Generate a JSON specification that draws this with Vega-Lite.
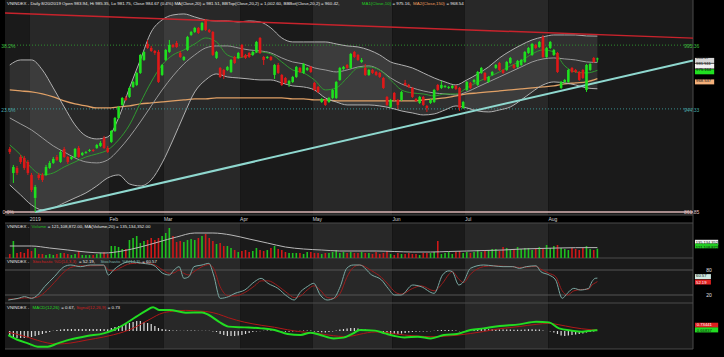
{
"$schema":"https://vega.github.io/schema/vega-lite/v6.json",
"background":"#000000",
"padding":0,
"autosize":{"type":"none"},
"width":724,
"height":357,
"config":{"view":{"stroke":null,"fill":"#000000"},"text":{"font":"Liberation Sans"}},
"resolve":{"scale":{"y":"independent","color":"independent"}},
"datasets":{
"mo":[{"m":"Dec","a":-7.31,"b":-0.5,"lab":""},{"m":"Jan","a":-0.5,"b":21.5,"lab":"2019"},{"m":"Feb","a":21.5,"b":36.5,"lab":"Feb"},{"m":"Mar","a":36.5,"b":57.5,"lab":"Mar"},{"m":"Apr","a":57.5,"b":77.5,"lab":"Apr"},{"m":"May","a":77.5,"b":99.5,"lab":"May"},{"m":"Jun","a":99.5,"b":119.5,"lab":"Jun"},{"m":"Jul","a":119.5,"b":142.5,"lab":"Jul"},{"m":"Aug","a":142.5,"b":182.36,"lab":"Aug"}],
"c":[
{"i":-6,"o":912.3,"h":913.9,"l":908.3,"c":909.9,"v":52,"mh":-4},
{"i":-5,"o":893.1,"h":899.5,"l":885.1,"c":897.9,"v":221,"mh":-5},
{"i":-4,"o":897.1,"h":898.7,"l":891.5,"c":893.1,"v":65,"mh":-5.6},
{"i":-3,"o":905.9,"h":907.5,"l":900.3,"c":901.9,"v":78,"mh":-5.6},
{"i":-2,"o":905.1,"h":906.7,"l":895.5,"c":897.1,"v":65,"mh":-5.6},
{"i":-1,"o":901.9,"h":903.5,"l":891.5,"c":893.1,"v":117,"mh":-5.2},
{"i":0,"o":891.5,"h":893.1,"l":877.9,"c":879.5,"v":91,"mh":-4.8},
{"i":1,"o":873.1,"h":883.5,"l":861.9,"c":881.9,"v":130,"mh":-4},
{"i":2,"o":891.5,"h":893.1,"l":887.5,"c":889.1,"v":52,"mh":-3.2},
{"i":3,"o":891.5,"h":893.1,"l":885.9,"c":887.5,"v":52,"mh":-2.4},
{"i":4,"o":891.5,"h":899.5,"l":890.7,"c":897.9,"v":39,"mh":-1.6},
{"i":5,"o":897.1,"h":902.7,"l":896.3,"c":901.1,"v":52,"mh":-0.8},
{"i":6,"o":901.1,"h":905.9,"l":900.3,"c":904.3,"v":39,"mh":0.3},
{"i":7,"o":905.9,"h":907.5,"l":902.7,"c":903.5,"v":52,"mh":0.8},
{"i":8,"o":901.9,"h":911.5,"l":901.1,"c":909.9,"v":65,"mh":1.2},
{"i":9,"o":912.3,"h":913.9,"l":905.1,"c":905.9,"v":65,"mh":1.6},
{"i":10,"o":905.9,"h":906.7,"l":900.3,"c":901.9,"v":52,"mh":1.6},
{"i":11,"o":904.3,"h":906.7,"l":903.5,"c":905.9,"v":39,"mh":1.6},
{"i":12,"o":905.9,"h":913.1,"l":905.1,"c":912.3,"v":52,"mh":1.6},
{"i":13,"o":913.1,"h":914.7,"l":905.1,"c":905.9,"v":91,"mh":1.6},
{"i":14,"o":907.5,"h":909.9,"l":906.7,"c":909.1,"v":39,"mh":1.6},
{"i":15,"o":909.1,"h":910.7,"l":908.3,"c":909.9,"v":39,"mh":1.6},
{"i":16,"o":910.7,"h":912.3,"l":909.9,"c":911.5,"v":39,"mh":1.6},
{"i":17,"o":911.5,"h":912.3,"l":909.9,"c":910.7,"v":39,"mh":1.6},
{"i":18,"o":913.1,"h":916.3,"l":912.3,"c":915.5,"v":52,"mh":1.6},
{"i":19,"o":914.7,"h":918.7,"l":913.9,"c":917.1,"v":65,"mh":1.6},
{"i":20,"o":921.1,"h":922.7,"l":912.3,"c":913.1,"v":78,"mh":1.6},
{"i":21,"o":913.1,"h":914.7,"l":909.1,"c":909.9,"v":52,"mh":1.4},
{"i":22,"o":917.9,"h":927.5,"l":917.1,"c":926.7,"v":156,"mh":2.4},
{"i":23,"o":926.7,"h":937.9,"l":925.9,"c":937.1,"v":156,"mh":3.2},
{"i":24,"o":937.1,"h":946.7,"l":936.3,"c":945.9,"v":143,"mh":4},
{"i":25,"o":947.5,"h":953.9,"l":946.7,"c":953.1,"v":117,"mh":4.8},
{"i":26,"o":953.1,"h":954.7,"l":950.7,"c":951.5,"v":117,"mh":5.6},
{"i":27,"o":953.9,"h":961.9,"l":953.1,"c":961.1,"v":234,"mh":6.4},
{"i":28,"o":961.9,"h":966.7,"l":961.1,"c":965.9,"v":260,"mh":7.2},
{"i":29,"o":963.5,"h":973.9,"l":962.7,"c":973.1,"v":286,"mh":8},
{"i":30,"o":973.1,"h":988.3,"l":972.3,"c":987.5,"v":195,"mh":8},
{"i":31,"o":983.5,"h":990.7,"l":982.7,"c":989.9,"v":221,"mh":7.2},
{"i":32,"o":996.3,"h":999.5,"l":992.3,"c":993.1,"v":234,"mh":6.4},
{"i":33,"o":993.1,"h":994.7,"l":989.9,"c":990.7,"v":260,"mh":5.6},
{"i":34,"o":990.7,"h":991.5,"l":987.5,"c":989.1,"v":234,"mh":4},
{"i":35,"o":989.9,"h":991.5,"l":965.1,"c":965.9,"v":260,"mh":2.4},
{"i":36,"o":971.5,"h":980.3,"l":970.7,"c":979.5,"v":286,"mh":1.6},
{"i":37,"o":983.5,"h":992.3,"l":982.7,"c":991.5,"v":325,"mh":1.2},
{"i":38,"o":989.9,"h":999.5,"l":989.1,"c":995.5,"v":390,"mh":0.8},
{"i":39,"o":995.5,"h":996.3,"l":993.1,"c":993.9,"v":286,"mh":0.4},
{"i":40,"o":997.1,"h":998.7,"l":993.1,"c":993.9,"v":208,"mh":0.4},
{"i":41,"o":989.1,"h":990.7,"l":985.1,"c":985.9,"v":221,"mh":0.2},
{"i":42,"o":983.5,"h":986.7,"l":982.7,"c":985.9,"v":208,"mh":0.2},
{"i":43,"o":991.5,"h":1002.7,"l":990.7,"c":1001.9,"v":234,"mh":0.4},
{"i":44,"o":1003.5,"h":1006.7,"l":1002.7,"c":1005.9,"v":247,"mh":0.4},
{"i":45,"o":1005.9,"h":1009.9,"l":1005.1,"c":1009.1,"v":234,"mh":0.4},
{"i":46,"o":1009.1,"h":1009.9,"l":1004.3,"c":1005.1,"v":260,"mh":0.2},
{"i":47,"o":1007.5,"h":1013.9,"l":1006.7,"c":1013.1,"v":286,"mh":0.2},
{"i":48,"o":1015.5,"h":1016.3,"l":1006.7,"c":1007.5,"v":312,"mh":0.2},
{"i":49,"o":1007.5,"h":1008.3,"l":1005.1,"c":1005.9,"v":260,"mh":0.2},
{"i":50,"o":1005.9,"h":1006.7,"l":986.7,"c":987.5,"v":221,"mh":-0.4},
{"i":51,"o":985.1,"h":990.7,"l":984.3,"c":989.9,"v":182,"mh":-0.8},
{"i":52,"o":977.1,"h":977.9,"l":969.1,"c":969.9,"v":195,"mh":-2.4},
{"i":53,"o":975.5,"h":976.3,"l":968.3,"c":971.5,"v":156,"mh":-3.2},
{"i":54,"o":975.5,"h":978.7,"l":974.7,"c":977.9,"v":156,"mh":-4},
{"i":55,"o":973.9,"h":984.3,"l":973.1,"c":983.5,"v":130,"mh":-4},
{"i":56,"o":985.9,"h":986.7,"l":980.3,"c":981.1,"v":104,"mh":-4},
{"i":57,"o":985.1,"h":989.9,"l":984.3,"c":989.1,"v":78,"mh":-3.6},
{"i":58,"o":995.5,"h":996.3,"l":985.1,"c":985.9,"v":91,"mh":-3.2},
{"i":59,"o":987.5,"h":988.3,"l":984.3,"c":985.1,"v":104,"mh":-2.4},
{"i":60,"o":989.1,"h":989.9,"l":985.1,"c":985.9,"v":78,"mh":-1.6},
{"i":61,"o":987.5,"h":990.7,"l":986.7,"c":989.9,"v":91,"mh":-0.8},
{"i":62,"o":989.9,"h":998.7,"l":989.1,"c":997.9,"v":130,"mh":-0.4},
{"i":63,"o":1001.1,"h":1001.9,"l":988.3,"c":989.1,"v":104,"mh":-0.2},
{"i":64,"o":985.9,"h":986.7,"l":979.5,"c":983.5,"v":91,"mh":0.2},
{"i":65,"o":985.1,"h":986.7,"l":984.3,"c":985.9,"v":104,"mh":0.4},
{"i":66,"o":985.9,"h":986.7,"l":982.7,"c":983.5,"v":130,"mh":0.4},
{"i":67,"o":971.5,"h":980.3,"l":968.3,"c":979.5,"v":156,"mh":0.2},
{"i":68,"o":979.5,"h":981.1,"l":972.3,"c":973.1,"v":117,"mh":-0.2},
{"i":69,"o":971.5,"h":972.3,"l":962.7,"c":963.5,"v":104,"mh":-0.4},
{"i":70,"o":969.1,"h":969.9,"l":964.3,"c":965.1,"v":78,"mh":-0.6},
{"i":71,"o":964.3,"h":967.5,"l":961.9,"c":966.7,"v":65,"mh":-0.6},
{"i":72,"o":965.9,"h":970.7,"l":965.1,"c":969.9,"v":65,"mh":-0.4},
{"i":73,"o":969.9,"h":978.7,"l":969.1,"c":977.9,"v":65,"mh":-0.2},
{"i":74,"o":977.1,"h":977.9,"l":973.1,"c":973.9,"v":65,"mh":0.2},
{"i":75,"o":973.1,"h":981.1,"l":972.3,"c":980.3,"v":52,"mh":0.4},
{"i":76,"o":975.5,"h":977.9,"l":974.7,"c":977.1,"v":78,"mh":0.4},
{"i":77,"o":977.9,"h":978.7,"l":973.1,"c":973.9,"v":78,"mh":0.4},
{"i":78,"o":965.1,"h":965.9,"l":958.7,"c":959.5,"v":65,"mh":-0.4},
{"i":79,"o":961.9,"h":962.7,"l":957.1,"c":957.9,"v":65,"mh":-0.8},
{"i":80,"o":949.9,"h":953.1,"l":949.1,"c":952.3,"v":52,"mh":-1},
{"i":81,"o":951.5,"h":952.3,"l":946.7,"c":947.5,"v":65,"mh":-1.2},
{"i":82,"o":949.9,"h":953.9,"l":949.1,"c":953.1,"v":65,"mh":-0.8},
{"i":83,"o":953.1,"h":960.3,"l":952.3,"c":959.5,"v":78,"mh":-0.4},
{"i":84,"o":953.1,"h":966.7,"l":952.3,"c":965.9,"v":104,"mh":0.4},
{"i":85,"o":967.5,"h":977.9,"l":966.7,"c":977.1,"v":65,"mh":1.2},
{"i":86,"o":976.3,"h":978.7,"l":975.5,"c":977.9,"v":78,"mh":1.6},
{"i":87,"o":979.5,"h":980.3,"l":976.3,"c":977.1,"v":65,"mh":2},
{"i":88,"o":977.1,"h":989.1,"l":976.3,"c":988.3,"v":78,"mh":2.4},
{"i":89,"o":989.9,"h":990.7,"l":985.1,"c":985.9,"v":65,"mh":2.4},
{"i":90,"o":987.5,"h":988.3,"l":982.7,"c":983.5,"v":65,"mh":2},
{"i":91,"o":981.9,"h":985.1,"l":981.1,"c":983.5,"v":78,"mh":1.6},
{"i":92,"o":977.1,"h":980.3,"l":970.7,"c":971.5,"v":65,"mh":1.2},
{"i":93,"o":971.5,"h":976.3,"l":970.7,"c":975.5,"v":65,"mh":0.8},
{"i":94,"o":975.5,"h":976.3,"l":972.3,"c":973.1,"v":52,"mh":0.4},
{"i":95,"o":973.9,"h":974.7,"l":970.7,"c":971.5,"v":78,"mh":0.2},
{"i":96,"o":973.1,"h":973.9,"l":969.1,"c":969.9,"v":52,"mh":-0.4},
{"i":97,"o":969.1,"h":969.9,"l":960.3,"c":961.1,"v":65,"mh":-1.2},
{"i":98,"o":953.9,"h":954.7,"l":946.7,"c":947.5,"v":91,"mh":-2},
{"i":99,"o":945.9,"h":952.3,"l":945.1,"c":951.5,"v":52,"mh":-2.4},
{"i":100,"o":957.1,"h":957.9,"l":950.7,"c":951.5,"v":39,"mh":-2.4},
{"i":101,"o":951.5,"h":952.3,"l":944.3,"c":947.5,"v":65,"mh":-2.4},
{"i":102,"o":951.5,"h":958.7,"l":950.7,"c":957.9,"v":52,"mh":-2},
{"i":103,"o":965.1,"h":967.5,"l":962.7,"c":963.5,"v":52,"mh":-1.6},
{"i":104,"o":963.5,"h":964.3,"l":961.1,"c":961.9,"v":65,"mh":-1.2},
{"i":105,"o":961.1,"h":961.9,"l":953.1,"c":953.9,"v":52,"mh":-0.8},
{"i":106,"o":952.3,"h":953.1,"l":949.9,"c":950.7,"v":52,"mh":-0.6},
{"i":107,"o":949.1,"h":954.7,"l":948.3,"c":953.9,"v":39,"mh":-0.4},
{"i":108,"o":953.9,"h":954.7,"l":946.7,"c":947.5,"v":65,"mh":-0.4},
{"i":109,"o":946.7,"h":947.5,"l":941.9,"c":945.1,"v":65,"mh":-0.4},
{"i":110,"o":949.1,"h":952.3,"l":948.3,"c":951.5,"v":65,"mh":-0.2},
{"i":111,"o":949.9,"h":960.3,"l":949.1,"c":959.5,"v":78,"mh":0.2},
{"i":112,"o":963.5,"h":964.3,"l":958.7,"c":959.5,"v":221,"mh":0.6},
{"i":113,"o":961.1,"h":966.7,"l":960.3,"c":963.5,"v":52,"mh":0.8},
{"i":114,"o":961.9,"h":963.5,"l":961.1,"c":962.7,"v":65,"mh":0.8},
{"i":115,"o":961.1,"h":962.7,"l":960.3,"c":961.9,"v":78,"mh":0.8},
{"i":116,"o":961.1,"h":963.5,"l":960.3,"c":962.7,"v":52,"mh":0.6},
{"i":117,"o":962.7,"h":963.5,"l":959.5,"c":960.3,"v":78,"mh":0.4},
{"i":118,"o":961.1,"h":961.9,"l":942.7,"c":945.1,"v":91,"mh":-0.2},
{"i":119,"o":945.1,"h":950.7,"l":944.3,"c":949.9,"v":65,"mh":-0.2},
{"i":120,"o":959.5,"h":966.7,"l":958.7,"c":965.9,"v":78,"mh":0.4},
{"i":121,"o":965.1,"h":965.9,"l":960.3,"c":961.1,"v":65,"mh":0.8},
{"i":122,"o":965.9,"h":968.3,"l":965.1,"c":967.5,"v":78,"mh":1.2},
{"i":123,"o":963.5,"h":974.7,"l":962.7,"c":973.9,"v":104,"mh":1.6},
{"i":124,"o":973.1,"h":977.9,"l":972.3,"c":977.1,"v":78,"mh":1.6},
{"i":125,"o":973.1,"h":973.9,"l":966.7,"c":967.5,"v":91,"mh":1.6},
{"i":126,"o":965.9,"h":970.7,"l":965.1,"c":969.9,"v":104,"mh":1.4},
{"i":127,"o":971.5,"h":974.7,"l":970.7,"c":973.9,"v":117,"mh":1.4},
{"i":128,"o":977.1,"h":980.3,"l":976.3,"c":979.5,"v":117,"mh":1.4},
{"i":129,"o":981.1,"h":981.9,"l":974.7,"c":975.5,"v":91,"mh":1.2},
{"i":130,"o":975.5,"h":976.3,"l":972.3,"c":973.1,"v":143,"mh":1.2},
{"i":131,"o":975.5,"h":982.7,"l":974.7,"c":981.9,"v":130,"mh":1.2},
{"i":132,"o":981.1,"h":985.9,"l":980.3,"c":985.1,"v":104,"mh":1.2},
{"i":133,"o":979.5,"h":980.3,"l":976.3,"c":977.1,"v":117,"mh":1},
{"i":134,"o":977.9,"h":983.5,"l":977.1,"c":982.7,"v":143,"mh":1},
{"i":135,"o":979.5,"h":984.3,"l":978.7,"c":983.5,"v":117,"mh":1},
{"i":136,"o":981.9,"h":990.7,"l":981.1,"c":989.9,"v":130,"mh":1.2},
{"i":137,"o":989.1,"h":993.9,"l":988.3,"c":993.1,"v":130,"mh":1.4},
{"i":138,"o":987.5,"h":997.1,"l":986.7,"c":996.3,"v":104,"mh":1.4},
{"i":139,"o":995.5,"h":996.3,"l":992.3,"c":993.1,"v":117,"mh":1.2},
{"i":140,"o":993.9,"h":998.7,"l":993.1,"c":997.9,"v":143,"mh":1.2},
{"i":141,"o":1001.9,"h":1003.5,"l":985.1,"c":985.9,"v":117,"mh":0.4},
{"i":142,"o":985.9,"h":993.9,"l":985.1,"c":993.1,"v":169,"mh":0},
{"i":143,"o":993.1,"h":998.7,"l":992.3,"c":997.9,"v":130,"mh":-0.4},
{"i":144,"o":987.5,"h":992.3,"l":986.7,"c":991.5,"v":156,"mh":-1.2},
{"i":145,"o":989.1,"h":989.9,"l":973.1,"c":973.9,"v":169,"mh":-2.4},
{"i":146,"o":961.1,"h":966.7,"l":960.3,"c":965.9,"v":130,"mh":-3.6},
{"i":147,"o":965.9,"h":968.3,"l":965.1,"c":967.5,"v":117,"mh":-4},
{"i":148,"o":965.9,"h":976.3,"l":965.1,"c":975.5,"v":104,"mh":-3.6},
{"i":149,"o":977.1,"h":977.9,"l":973.1,"c":973.9,"v":130,"mh":-3.2},
{"i":150,"o":975.5,"h":976.3,"l":973.1,"c":973.9,"v":117,"mh":-2.8},
{"i":151,"o":973.9,"h":974.7,"l":966.7,"c":967.5,"v":104,"mh":-2.4},
{"i":152,"o":975.5,"h":976.3,"l":968.3,"c":969.1,"v":130,"mh":-2},
{"i":153,"o":959.5,"h":980.3,"l":957.9,"c":979.5,"v":156,"mh":-1.2},
{"i":154,"o":975.5,"h":981.1,"l":974.7,"c":980.3,"v":117,"mh":-0.8},
{"i":155,"o":985.1,"h":985.9,"l":981.1,"c":981.9,"v":104,"mh":-0.4},
{"i":156,"o":983.94,"h":985.35,"l":981.75,"c":984.67,"v":121.1,"mh":-0.06}
],
"bb":[
{"i":-6,"t":979.5,"b":883.5,"m":937.1,"a":915.5,"s":959.5},
{"i":-3,"t":983.5,"b":875.5,"m":932.3,"a":907.5,"s":958.7},
{"i":0,"t":983.5,"b":867.5,"m":927.5,"a":897.1,"s":957.9},
{"i":3,"t":975.5,"b":863.5,"m":921.1,"a":891.5,"s":956.3},
{"i":6,"t":961.1,"b":865.1,"m":914.7,"a":893.1,"s":953.9},
{"i":9,"t":945.9,"b":869.1,"m":909.9,"a":897.9,"s":950.7},
{"i":12,"t":931.5,"b":873.1,"m":905.1,"a":901.9,"s":948.3},
{"i":15,"t":922.7,"b":877.1,"m":901.9,"a":905.9,"s":946.7},
{"i":18,"t":920.3,"b":882.7,"m":901.1,"a":908.3,"s":945.1},
{"i":21,"t":921.9,"b":889.1,"m":903.5,"a":911.5,"s":945.1},
{"i":24,"t":937.1,"b":891.5,"m":911.5,"a":919.5,"s":945.9},
{"i":27,"t":961.1,"b":884.3,"m":921.9,"a":931.5,"s":946.7},
{"i":30,"t":983.5,"b":882.7,"m":933.9,"a":949.1,"s":948.3},
{"i":33,"t":1005.9,"b":887.5,"m":946.7,"a":965.9,"s":949.1},
{"i":36,"t":1015.5,"b":901.1,"m":959.5,"a":979.5,"s":949.9},
{"i":39,"t":1019.5,"b":919.5,"m":970.7,"a":987.5,"s":950.7},
{"i":42,"t":1020.3,"b":939.5,"m":980.3,"a":991.5,"s":951.5},
{"i":45,"t":1017.9,"b":957.9,"m":987.5,"a":996.3,"s":952.3},
{"i":48,"t":1015.5,"b":967.5,"m":993.1,"a":1001.1,"s":952.3},
{"i":51,"t":1014.7,"b":972.3,"m":994.7,"a":997.9,"s":953.1},
{"i":54,"t":1014.7,"b":969.9,"m":994.7,"a":987.5,"s":953.1},
{"i":57,"t":1013.9,"b":969.1,"m":993.1,"a":985.1,"s":953.1},
{"i":60,"t":1014.7,"b":968.3,"m":991.5,"a":987.5,"s":953.1},
{"i":63,"t":1013.9,"b":967.5,"m":990.7,"a":989.9,"s":953.1},
{"i":66,"t":1009.1,"b":967.5,"m":989.1,"a":988.3,"s":953.1},
{"i":69,"t":1001.1,"b":965.1,"m":985.1,"a":981.9,"s":953.1},
{"i":72,"t":997.9,"b":962.7,"m":981.9,"a":975.5,"s":952.3},
{"i":75,"t":997.9,"b":961.9,"m":980.3,"a":973.1,"s":952.3},
{"i":78,"t":997.9,"b":959.5,"m":977.1,"a":967.5,"s":951.5},
{"i":81,"t":997.9,"b":953.1,"m":975.5,"a":959.5,"s":951.5},
{"i":84,"t":996.3,"b":949.9,"m":973.9,"a":961.1,"s":950.7},
{"i":87,"t":994.7,"b":947.5,"m":975.5,"a":969.1,"s":950.7},
{"i":90,"t":993.9,"b":947.5,"m":977.9,"a":977.1,"s":950.7},
{"i":93,"t":991.5,"b":947.5,"m":978.7,"a":977.9,"s":950.7},
{"i":96,"t":987.5,"b":946.7,"m":975.5,"a":975.5,"s":950.7},
{"i":99,"t":981.9,"b":945.1,"m":969.1,"a":967.5,"s":950.7},
{"i":102,"t":979.5,"b":942.7,"m":964.3,"a":959.5,"s":950.7},
{"i":105,"t":977.1,"b":941.1,"m":961.1,"a":957.1,"s":950.7},
{"i":108,"t":973.1,"b":939.5,"m":958.7,"a":956.3,"s":951.5},
{"i":111,"t":969.1,"b":940.3,"m":957.1,"a":954.7,"s":952.3},
{"i":114,"t":965.9,"b":943.5,"m":956.3,"a":956.3,"s":953.1},
{"i":117,"t":963.5,"b":946.7,"m":955.5,"a":956.3,"s":954.7},
{"i":120,"t":967.5,"b":945.1,"m":957.9,"a":961.1,"s":956.3},
{"i":123,"t":972.3,"b":942.7,"m":961.9,"a":965.9,"s":957.1},
{"i":126,"t":977.9,"b":941.9,"m":965.9,"a":969.9,"s":957.9},
{"i":129,"t":985.1,"b":943.5,"m":969.9,"a":973.9,"s":958.7},
{"i":132,"t":990.7,"b":945.9,"m":973.9,"a":978.7,"s":959.5},
{"i":135,"t":995.5,"b":951.5,"m":977.9,"a":982.7,"s":960.3},
{"i":138,"t":999.5,"b":957.9,"m":981.9,"a":988.3,"s":961.1},
{"i":141,"t":1001.9,"b":963.5,"m":984.3,"a":991.5,"s":961.9},
{"i":144,"t":1003.5,"b":965.9,"m":985.1,"a":989.9,"s":962.7},
{"i":147,"t":1003.5,"b":965.1,"m":984.3,"a":978.7,"s":964.3},
{"i":150,"t":1003.5,"b":963.5,"m":983.5,"a":973.9,"s":965.1},
{"i":153,"t":1002.7,"b":961.1,"m":981.9,"a":973.1,"s":965.9},
{"i":156,"t":1002.6,"b":960.42,"m":981.51,"a":975.16,"s":968.54}
],
"vm":[{"i":-6,"v":156},{"i":0,"v":156},{"i":5,"v":130},{"i":10,"v":104},{"i":15,"v":78},{"i":20,"v":65},{"i":25,"v":91},{"i":30,"v":143},{"i":35,"v":208},{"i":40,"v":273},{"i":45,"v":325},{"i":50,"v":325},{"i":55,"v":299},{"i":60,"v":247},{"i":65,"v":195},{"i":70,"v":143},{"i":75,"v":117},{"i":80,"v":104},{"i":85,"v":91},{"i":90,"v":91},{"i":95,"v":91},{"i":100,"v":84.5},{"i":105,"v":78},{"i":110,"v":78},{"i":115,"v":84.5},{"i":120,"v":91},{"i":125,"v":97.5},{"i":130,"v":104},{"i":135,"v":117},{"i":140,"v":123.5},{"i":145,"v":130},{"i":150,"v":134},{"i":156,"v":135.1}],
"st":[{"i":-6.4,"k":8,"d":10},{"i":-3.7,"k":12,"d":11},{"i":-1.9,"k":16,"d":13},{"i":0,"k":12,"d":13},{"i":1.7,"k":20,"d":15},{"i":3.6,"k":40,"d":26},{"i":6.3,"k":64,"d":50},{"i":9,"k":88,"d":75},{"i":10.8,"k":92,"d":86},{"i":13.5,"k":88,"d":90},{"i":16.2,"k":92,"d":90},{"i":19.9,"k":92,"d":91},{"i":21.2,"k":68,"d":80},{"i":22.6,"k":80,"d":78},{"i":24.4,"k":92,"d":85},{"i":27.1,"k":100,"d":95},{"i":30.7,"k":96,"d":97},{"i":33.5,"k":92,"d":94},{"i":36.2,"k":72,"d":80},{"i":38,"k":68,"d":72},{"i":39.3,"k":80,"d":73},{"i":40.7,"k":88,"d":80},{"i":42,"k":60,"d":72},{"i":43.4,"k":64,"d":68},{"i":44.8,"k":88,"d":76},{"i":47,"k":92,"d":88},{"i":48.9,"k":96,"d":93},{"i":50.2,"k":68,"d":84},{"i":52,"k":12,"d":40},{"i":54.3,"k":16,"d":18},{"i":56.1,"k":24,"d":18},{"i":58.8,"k":32,"d":26},{"i":61.5,"k":52,"d":42},{"i":63.3,"k":60,"d":54},{"i":65.2,"k":48,"d":54},{"i":67.9,"k":36,"d":42},{"i":70.6,"k":16,"d":24},{"i":72.4,"k":8,"d":14},{"i":74.2,"k":28,"d":18},{"i":76,"k":40,"d":32},{"i":77.8,"k":48,"d":42},{"i":79.6,"k":20,"d":32},{"i":81.5,"k":8,"d":14},{"i":83.3,"k":12,"d":12},{"i":85.1,"k":40,"d":24},{"i":86.9,"k":84,"d":62},{"i":88.7,"k":92,"d":86},{"i":90.5,"k":92,"d":92},{"i":93.8,"k":68,"d":78},{"i":96.5,"k":56,"d":62},{"i":98.3,"k":36,"d":46},{"i":100.1,"k":20,"d":28},{"i":101.9,"k":20,"d":22},{"i":105.1,"k":44,"d":36},{"i":107.4,"k":40,"d":42},{"i":111,"k":24,"d":30},{"i":113.3,"k":68,"d":48},{"i":115.1,"k":78,"d":70},{"i":116,"k":76,"d":76},{"i":117.8,"k":44,"d":58},{"i":119.1,"k":52,"d":50},{"i":121,"k":84,"d":70},{"i":124.6,"k":92,"d":88},{"i":127.3,"k":90,"d":90},{"i":130,"k":88,"d":89},{"i":132.7,"k":88,"d":88},{"i":134.5,"k":84,"d":86},{"i":136.4,"k":88,"d":87},{"i":139.1,"k":90,"d":89},{"i":140.4,"k":76,"d":82},{"i":142.7,"k":68,"d":72},{"i":144.5,"k":56,"d":64},{"i":146.3,"k":12,"d":30},{"i":147.7,"k":24,"d":20},{"i":149.5,"k":36,"d":30},{"i":151.3,"k":32,"d":33},{"i":153.6,"k":36,"d":34},{"i":154.5,"k":52,"d":44},{"i":155.4,"k":60,"d":49},{"i":156,"k":60.57,"d":52.19}],
"md":[{"i":-6.4,"m":-3.2,"s":-1},{"i":-3.7,"m":-7.2,"s":-2.8},{"i":-1,"m":-9.9,"s":-5},{"i":1.7,"m":-12.5,"s":-7.5},{"i":4.5,"m":-12.5,"s":-9.6},{"i":7.2,"m":-9.9,"s":-10.4},{"i":10.8,"m":-6.7,"s":-9.6},{"i":15.3,"m":-4,"s":-7.2},{"i":19.9,"m":-1.9,"s":-4.8},{"i":22.6,"m":0.8,"s":-3},{"i":25.3,"m":4.8,"s":-0.8},{"i":28.9,"m":11.5,"s":3.5},{"i":31.6,"m":16.3,"s":7.8},{"i":33.5,"m":19,"s":10.8},{"i":35.3,"m":16.8,"s":13.5},{"i":38,"m":16.8,"s":15.5},{"i":42.5,"m":14.7,"s":16.5},{"i":47,"m":14.9,"s":15.8},{"i":48.9,"m":12.8,"s":15.3},{"i":51.6,"m":7.5,"s":13.4},{"i":54.3,"m":3.5,"s":10.6},{"i":58.8,"m":2.9,"s":7},{"i":63.3,"m":2.1,"s":4.6},{"i":67,"m":0.8,"s":3},{"i":70.6,"m":-2.4,"s":1},{"i":74.2,"m":-3.2,"s":-0.6},{"i":76.9,"m":-1.3,"s":-1.3},{"i":79.6,"m":-3.2,"s":-2.2},{"i":83.3,"m":-5.9,"s":-3.8},{"i":86,"m":-5.3,"s":-4.4},{"i":88.7,"m":-1.9,"s":-3.8},{"i":90.5,"m":0.8,"s":-2.6},{"i":94.7,"m":0.3,"s":-0.8},{"i":97.4,"m":-1.9,"s":-1},{"i":100.1,"m":-4,"s":-2.2},{"i":102.8,"m":-5.1,"s":-3.2},{"i":106.5,"m":-4.5,"s":-4},{"i":110.1,"m":-5.9,"s":-4.6},{"i":113.7,"m":-3.2,"s":-4.2},{"i":117.3,"m":-2.4,"s":-3.4},{"i":121,"m":0.8,"s":-2},{"i":124.6,"m":2.1,"s":-0.4},{"i":129.1,"m":4,"s":1.8},{"i":134.5,"m":5.3,"s":3.6},{"i":139.1,"m":7.5,"s":5.3},{"i":142.7,"m":6.9,"s":6.1},{"i":145.4,"m":2.1,"s":5},{"i":149,"m":0.3,"s":3},{"i":151.7,"m":-0.5,"s":1.8},{"i":154.4,"m":0.3,"s":1},{"i":156,"m":0.67,"s":0.73}]
},
"layer":[
{"data":{"name":"mo"},"mark":{"type":"rect"},"encoding":{"x":{"field":"a","type":"quantitative","scale":{"domain":[-7.31,182.36],"range":[0,698],"nice":false,"zero":false},"axis":null},"x2":{"field":"b"},"y":{"datum":859.45,"scale":{"domain":[853.05,1031.45],"range":[223,0],"nice":false,"zero":false},"axis":null},"y2":{"datum":1031.45},"color":{"field":"m","type":"nominal","scale":{"domain":["Dec","Jan","Feb","Mar","Apr","May","Jun","Jul","Aug"],"range":["#1a1a1a","#282828","#1a1a1a","#282828","#1a1a1a","#282828","#1a1a1a","#282828","#1a1a1a"]},"legend":null}}},
{"data":{"name":"mo"},"mark":{"type":"rect"},"encoding":{"x":{"field":"a","type":"quantitative"},"x2":{"field":"b"},"y":{"datum":0,"scale":{"domain":[0,455],"range":[258,223],"nice":false,"zero":false},"axis":null},"y2":{"datum":455},"color":{"field":"m","type":"nominal","scale":{"domain":["Dec","Jan","Feb","Mar","Apr","May","Jun","Jul","Aug"],"range":["#1a1a1a","#282828","#1a1a1a","#282828","#1a1a1a","#282828","#1a1a1a","#282828","#1a1a1a"]},"legend":null}}},
{"data":{"name":"mo"},"mark":{"type":"rect"},"encoding":{"x":{"field":"a","type":"quantitative"},"x2":{"field":"b"},"y":{"datum":0.8,"scale":{"domain":[0.8,108.8],"range":[303,258],"nice":false,"zero":false},"axis":null},"y2":{"datum":108.8},"color":{"field":"m","type":"nominal","scale":{"domain":["Dec","Jan","Feb","Mar","Apr","May","Jun","Jul","Aug"],"range":["#1a1a1a","#282828","#1a1a1a","#282828","#1a1a1a","#282828","#1a1a1a","#282828","#1a1a1a"]},"legend":null}}},
{"data":{"name":"mo"},"mark":{"type":"rect"},"encoding":{"x":{"field":"a","type":"quantitative"},"x2":{"field":"b"},"y":{"datum":-14.4,"scale":{"domain":[-14.4,22.4],"range":[349,303],"nice":false,"zero":false},"axis":null},"y2":{"datum":22.4},"color":{"field":"m","type":"nominal","scale":{"domain":["Dec","Jan","Feb","Mar","Apr","May","Jun","Jul","Aug"],"range":["#1a1a1a","#282828","#1a1a1a","#282828","#1a1a1a","#282828","#1a1a1a","#282828","#1a1a1a"]},"legend":null}}},
{"data":{"values":[{"p":859.45},{"p":853.05},{"p":825.05},{"p":789.05},{"p":752.25}]},"mark":{"type":"rule","color":"#4a4a4a","strokeWidth":1},"encoding":{"x":{"datum":-7.31},"x2":{"datum":182.36},"y":{"field":"p","type":"quantitative","scale":{"domain":[853.05,1031.45],"range":[223,0],"nice":false,"zero":false},"axis":null}}},
{"data":{"values":[{}]},"mark":{"type":"rule","color":"#4a4a4a","strokeWidth":1},"encoding":{"x":{"datum":182.36},"y":{"datum":752.25,"scale":{"domain":[853.05,1031.45],"range":[223,0],"nice":false,"zero":false},"axis":null},"y2":{"datum":1031.45}}},
{"data":{"name":"bb"},"mark":{"type":"area","color":"#8c8c8c","opacity":0.2,"interpolate":"monotone"},"encoding":{"x":{"field":"i","type":"quantitative"},"y":{"field":"b","type":"quantitative","scale":{"domain":[853.05,1031.45],"range":[223,0],"nice":false,"zero":false},"axis":null},"y2":{"field":"t"}}},
{"data":{"values":[{}]},"mark":{"type":"rule","color":"#2f8f2f","strokeDash":[1,2],"strokeWidth":1},"encoding":{"x":{"datum":-7.31},"x2":{"datum":182.36},"y":{"datum":995.36,"scale":{"domain":[853.05,1031.45],"range":[223,0],"nice":false,"zero":false},"axis":null}}},
{"data":{"values":[{}]},"mark":{"type":"rule","color":"#3a8f8f","strokeDash":[1,2],"strokeWidth":1},"encoding":{"x":{"datum":-7.31},"x2":{"datum":182.36},"y":{"datum":944.33,"scale":{"domain":[853.05,1031.45],"range":[223,0],"nice":false,"zero":false},"axis":null}}},
{"data":{"values":[{}]},"mark":{"type":"rule","color":"#d9b3b3","strokeWidth":1.5},"encoding":{"x":{"datum":-7.31},"x2":{"datum":182.36},"y":{"datum":861.85,"scale":{"domain":[853.05,1031.45],"range":[223,0],"nice":false,"zero":false},"axis":null}}},
{"data":{"name":"bb"},"mark":{"type":"line","color":"#e0a066","strokeWidth":1.3,"interpolate":"monotone"},"encoding":{"x":{"field":"i","type":"quantitative"},"y":{"field":"s","type":"quantitative","scale":{"domain":[853.05,1031.45],"range":[223,0],"nice":false,"zero":false},"axis":null}}},
{"data":{"name":"bb"},"mark":{"type":"line","color":"#b0b0b0","strokeWidth":1,"interpolate":"monotone"},"encoding":{"x":{"field":"i","type":"quantitative"},"y":{"field":"t","type":"quantitative","scale":{"domain":[853.05,1031.45],"range":[223,0],"nice":false,"zero":false},"axis":null}}},
{"data":{"name":"bb"},"mark":{"type":"line","color":"#b0b0b0","strokeWidth":1,"interpolate":"monotone"},"encoding":{"x":{"field":"i","type":"quantitative"},"y":{"field":"b","type":"quantitative","scale":{"domain":[853.05,1031.45],"range":[223,0],"nice":false,"zero":false},"axis":null}}},
{"data":{"name":"bb"},"mark":{"type":"line","color":"#9a9a9a","strokeWidth":1,"interpolate":"monotone"},"encoding":{"x":{"field":"i","type":"quantitative"},"y":{"field":"m","type":"quantitative","scale":{"domain":[853.05,1031.45],"range":[223,0],"nice":false,"zero":false},"axis":null}}},
{"data":{"name":"bb"},"mark":{"type":"line","color":"#2f9a2f","strokeWidth":1,"interpolate":"monotone"},"encoding":{"x":{"field":"i","type":"quantitative"},"y":{"field":"a","type":"quantitative","scale":{"domain":[853.05,1031.45],"range":[223,0],"nice":false,"zero":false},"axis":null}}},
{"data":{"values":[{"i":-7.31,"p":1021.05},{"i":182.36,"p":1000.95}]},"mark":{"type":"line","color":"#c8232c","strokeWidth":1.5},"encoding":{"x":{"field":"i","type":"quantitative"},"y":{"field":"p","type":"quantitative","scale":{"domain":[853.05,1031.45],"range":[223,0],"nice":false,"zero":false},"axis":null}}},
{"data":{"values":[{"i":1,"p":861.85},{"i":182.36,"p":983.1}]},"mark":{"type":"line","color":"#8fd8cf","strokeWidth":2},"encoding":{"x":{"field":"i","type":"quantitative"},"y":{"field":"p","type":"quantitative","scale":{"domain":[853.05,1031.45],"range":[223,0],"nice":false,"zero":false},"axis":null}}},
{"data":{"name":"c"},"mark":{"type":"rule","strokeWidth":1},"encoding":{"x":{"field":"i","type":"quantitative"},"y":{"field":"l","type":"quantitative","scale":{"domain":[853.05,1031.45],"range":[223,0],"nice":false,"zero":false},"axis":null},"y2":{"field":"h"},"color":{"condition":{"test":"datum.c >= datum.o","value":"#1ee01e"},"value":"#e01818"}}},
{"data":{"name":"c"},"mark":{"type":"bar","width":2.6},"encoding":{"x":{"field":"i","type":"quantitative"},"y":{"field":"o","type":"quantitative","scale":{"domain":[853.05,1031.45],"range":[223,0],"nice":false,"zero":false},"axis":null},"y2":{"field":"c"},"color":{"condition":{"test":"datum.c >= datum.o","value":"#1ee01e"},"value":"#e01818"}}},
{"data":{"values":[{"i":-6.4,"p":995.36,"t":"38.2%"},{"i":182.0,"p":995.36,"t":"995.36"}]},"mark":{"type":"text","color":"#3fbf3f","fontSize":5,"baseline":"middle","dy":1},"encoding":{"x":{"field":"i","type":"quantitative"},"y":{"field":"p","type":"quantitative","scale":{"domain":[853.05,1031.45],"range":[223,0],"nice":false,"zero":false},"axis":null},"text":{"field":"t"},"align":{"condition":{"test":"datum.i > 0","value":"right"},"value":"left"}}},
{"data":{"values":[{"i":-6.4,"p":944.33,"t":"23.6%"},{"i":182.0,"p":944.33,"t":"944.33"}]},"mark":{"type":"text","color":"#4aa9a9","fontSize":5,"baseline":"middle","dy":1},"encoding":{"x":{"field":"i","type":"quantitative"},"y":{"field":"p","type":"quantitative","scale":{"domain":[853.05,1031.45],"range":[223,0],"nice":false,"zero":false},"axis":null},"text":{"field":"t"},"align":{"condition":{"test":"datum.i > 0","value":"right"},"value":"left"}}},
{"data":{"values":[{"i":-6.4,"p":861.85,"t":"0.0%"},{"i":182.0,"p":861.85,"t":"861.85"}]},"mark":{"type":"text","color":"#e0c0c0","fontSize":5,"baseline":"middle"},"encoding":{"x":{"field":"i","type":"quantitative"},"y":{"field":"p","type":"quantitative","scale":{"domain":[853.05,1031.45],"range":[223,0],"nice":false,"zero":false},"axis":null},"text":{"field":"t"},"align":{"condition":{"test":"datum.i > 0","value":"right"},"value":"left"}}},
{"data":{"values":[{"i":-6.77,"t":"VNINDEX - Daily 8/20/2019 Open 983.94, Hi 985.35, Lo 981.75, Close 984.67 (0.4%) MA(Close,20) = 981.51, BBTop(Close,20,2) = 1,002.60, BBBot(Close,20,2) = 960.42,"},{"i":99.5,"t":"= 975.16,"},{"i":114.4,"t":"= 968.54"}]},"mark":{"type":"text","color":"#e8e8e8","fontSize":4.4,"align":"left","baseline":"middle"},"encoding":{"x":{"field":"i","type":"quantitative"},"y":{"datum":1028.65,"scale":{"domain":[853.05,1031.45],"range":[223,0],"nice":false,"zero":false},"axis":null},"text":{"field":"t"}}},
{"data":{"values":[{"i":91.06,"t":"MA1(Close,10)"}]},"mark":{"type":"text","color":"#22cc22","fontSize":4.4,"align":"left","baseline":"middle"},"encoding":{"x":{"field":"i","type":"quantitative"},"y":{"datum":1028.65,"scale":{"domain":[853.05,1031.45],"range":[223,0],"nice":false,"zero":false},"axis":null},"text":{"field":"t"}}},
{"data":{"values":[{"i":105.2,"t":"MA2(Close,150)"}]},"mark":{"type":"text","color":"#f0a060","fontSize":4.4,"align":"left","baseline":"middle"},"encoding":{"x":{"field":"i","type":"quantitative"},"y":{"datum":1028.65,"scale":{"domain":[853.05,1031.45],"range":[223,0],"nice":false,"zero":false},"axis":null},"text":{"field":"t"}}},
{"data":{"name":"mo"},"mark":{"type":"text","color":"#d0d0d0","fontSize":5,"align":"left","baseline":"middle"},"encoding":{"x":{"field":"a","type":"quantitative"},"y":{"datum":856.25,"scale":{"domain":[853.05,1031.45],"range":[223,0],"nice":false,"zero":false},"axis":null},"text":{"field":"lab"}}},
{"data":{"values":[{"s":"close","v":985.05},{"s":"ma20","v":980.3},{"s":"ma10","v":975.5},{"s":"ma150","v":967.05}]},"mark":{"type":"bar","orient":"horizontal","height":5},"encoding":{"x":{"datum":182.9},"x2":{"datum":188.2},"y":{"field":"v","type":"quantitative","scale":{"domain":[853.05,1031.45],"range":[223,0],"nice":false,"zero":false},"axis":null},"color":{"field":"s","type":"nominal","scale":{"domain":["close","ma20","ma10","ma150"],"range":["#d6d6d6","#f2f2f2","#21e021","#f4b07a"]},"legend":null}}},
{"data":{"values":[{"v":985.05,"t":"984.67"},{"v":980.3,"t":"981.511"},{"v":975.5,"t":"975.164"},{"v":967.05,"t":"968.537"}]},"mark":{"type":"text","color":"#111111","fontSize":4.2,"align":"left","baseline":"middle"},"encoding":{"x":{"datum":183.2},"y":{"field":"v","type":"quantitative","scale":{"domain":[853.05,1031.45],"range":[223,0],"nice":false,"zero":false},"axis":null},"text":{"field":"t"}}},
{"data":{"name":"c"},"mark":{"type":"bar","width":1.6},"encoding":{"x":{"field":"i","type":"quantitative"},"y":{"field":"v","type":"quantitative","scale":{"domain":[0,455],"range":[258,223],"nice":false,"zero":false},"axis":null},"y2":{"datum":0},"color":{"condition":{"test":"datum.c >= datum.o","value":"#1ec01e"},"value":"#d01818"}}},
{"data":{"name":"vm"},"mark":{"type":"line","color":"#b8b8b8","strokeWidth":1,"interpolate":"monotone"},"encoding":{"x":{"field":"i","type":"quantitative"},"y":{"field":"v","type":"quantitative","scale":{"domain":[0,455],"range":[258,223],"nice":false,"zero":false},"axis":null}}},
{"data":{"values":[{"i":-6.77,"t":"VNINDEX -"},{"i":4.5,"t":"= 121,108,872.00, MA(Volume,20) = 135,134,352.00"}]},"mark":{"type":"text","color":"#e8e8e8","fontSize":4.4,"align":"left","baseline":"middle"},"encoding":{"x":{"field":"i","type":"quantitative"},"y":{"datum":409.5,"scale":{"domain":[0,455],"range":[258,223],"nice":false,"zero":false},"axis":null},"text":{"field":"t"}}},
{"data":{"values":[{"i":0.03,"t":"Volume"}]},"mark":{"type":"text","color":"#22bb22","fontSize":4.4,"align":"left","baseline":"middle"},"encoding":{"x":{"field":"i","type":"quantitative"},"y":{"datum":409.5,"scale":{"domain":[0,455],"range":[258,223],"nice":false,"zero":false},"axis":null},"text":{"field":"t"}}},
{"data":{"values":[{"s":"ma","v":195},{"s":"vol","v":130}]},"mark":{"type":"bar","orient":"horizontal","height":5},"encoding":{"x":{"datum":182.9},"x2":{"datum":189.3},"y":{"field":"v","type":"quantitative","scale":{"domain":[0,455],"range":[258,223],"nice":false,"zero":false},"axis":null},"color":{"field":"s","type":"nominal","scale":{"domain":["ma","vol"],"range":["#f2f2f2","#22cc22"]},"legend":null}}},
{"data":{"values":[{"v":195,"t":"135,134,352"},{"v":130,"t":"121,108,872"}]},"mark":{"type":"text","color":"#111111","fontSize":4,"align":"left","baseline":"middle"},"encoding":{"x":{"datum":183.1},"y":{"field":"v","type":"quantitative","scale":{"domain":[0,455],"range":[258,223],"nice":false,"zero":false},"axis":null},"text":{"field":"t"}}},
{"data":{"values":[{"y":80},{"y":20}]},"mark":{"type":"rule","color":"#555555","strokeWidth":1},"encoding":{"x":{"datum":-7.31},"x2":{"datum":182.36},"y":{"field":"y","type":"quantitative","scale":{"domain":[0.8,108.8],"range":[303,258],"nice":false,"zero":false},"axis":null}}},
{"data":{"name":"st"},"mark":{"type":"line","color":"#9a1c1c","strokeWidth":1,"interpolate":"monotone"},"encoding":{"x":{"field":"i","type":"quantitative"},"y":{"field":"d","type":"quantitative","scale":{"domain":[0.8,108.8],"range":[303,258],"nice":false,"zero":false},"axis":null}}},
{"data":{"name":"st"},"mark":{"type":"line","color":"#7aa8a2","strokeWidth":1,"interpolate":"monotone"},"encoding":{"x":{"field":"i","type":"quantitative"},"y":{"field":"k","type":"quantitative","scale":{"domain":[0.8,108.8],"range":[303,258],"nice":false,"zero":false},"axis":null}}},
{"data":{"values":[{"i":-6.77,"t":"VNINDEX -"},{"i":13.1,"t":"= 52.19,"},{"i":30.5,"t":"= 60.57"}]},"mark":{"type":"text","color":"#e8e8e8","fontSize":4.4,"align":"left","baseline":"middle"},"encoding":{"x":{"field":"i","type":"quantitative"},"y":{"datum":99.2,"scale":{"domain":[0.8,108.8],"range":[303,258],"nice":false,"zero":false},"axis":null},"text":{"field":"t"}}},
{"data":{"values":[{"i":0.3,"t":"Stochastic %D(14,3,3)"}]},"mark":{"type":"text","color":"#d02020","fontSize":4.4,"align":"left","baseline":"middle"},"encoding":{"x":{"field":"i","type":"quantitative"},"y":{"datum":99.2,"scale":{"domain":[0.8,108.8],"range":[303,258],"nice":false,"zero":false},"axis":null},"text":{"field":"t"}}},
{"data":{"values":[{"i":19,"t":"Stochastic %K(14,3)"}]},"mark":{"type":"text","color":"#80b8b0","fontSize":4.4,"align":"left","baseline":"middle"},"encoding":{"x":{"field":"i","type":"quantitative"},"y":{"datum":99.2,"scale":{"domain":[0.8,108.8],"range":[303,258],"nice":false,"zero":false},"axis":null},"text":{"field":"t"}}},
{"data":{"values":[{"y":80,"t":"80"},{"y":20,"t":"20"}]},"mark":{"type":"text","color":"#e0e0e0","fontSize":5,"align":"center","baseline":"middle"},"encoding":{"x":{"datum":186.8},"y":{"field":"y","type":"quantitative","scale":{"domain":[0.8,108.8],"range":[303,258],"nice":false,"zero":false},"axis":null},"text":{"field":"t"}}},
{"data":{"values":[{"s":"k","v":66.8},{"s":"d","v":50}]},"mark":{"type":"bar","orient":"horizontal","height":5},"encoding":{"x":{"datum":182.9},"x2":{"datum":187.3},"y":{"field":"v","type":"quantitative","scale":{"domain":[0.8,108.8],"range":[303,258],"nice":false,"zero":false},"axis":null},"color":{"field":"s","type":"nominal","scale":{"domain":["k","d"],"range":["#cfe9e2","#e02020"]},"legend":null}}},
{"data":{"values":[{"v":66.8,"t":"60.57","s":"k"},{"v":50,"t":"52.19","s":"d"}]},"mark":{"type":"text","fontSize":4.2,"align":"left","baseline":"middle"},"encoding":{"x":{"datum":183.2},"y":{"field":"v","type":"quantitative","scale":{"domain":[0.8,108.8],"range":[303,258],"nice":false,"zero":false},"axis":null},"text":{"field":"t"},"color":{"condition":{"test":"datum.s == 'd'","value":"#ffffff"},"value":"#111111"}}},
{"data":{"name":"c"},"mark":{"type":"bar","width":1.2,"color":"#dcdcdc"},"encoding":{"x":{"field":"i","type":"quantitative"},"y":{"field":"mh","type":"quantitative","scale":{"domain":[-14.4,22.4],"range":[349,303],"nice":false,"zero":false},"axis":null},"y2":{"datum":0}}},
{"data":{"name":"md"},"mark":{"type":"line","color":"#b01818","strokeWidth":1,"interpolate":"monotone"},"encoding":{"x":{"field":"i","type":"quantitative"},"y":{"field":"s","type":"quantitative","scale":{"domain":[-14.4,22.4],"range":[349,303],"nice":false,"zero":false},"axis":null}}},
{"data":{"name":"md"},"mark":{"type":"line","color":"#22dd22","strokeWidth":2,"interpolate":"monotone"},"encoding":{"x":{"field":"i","type":"quantitative"},"y":{"field":"m","type":"quantitative","scale":{"domain":[-14.4,22.4],"range":[349,303],"nice":false,"zero":false},"axis":null}}},
{"data":{"values":[{"i":-6.77,"t":"VNINDEX -"},{"i":8.2,"t":"= 0.67,"},{"i":21,"t":"= 0.73"}]},"mark":{"type":"text","color":"#e8e8e8","fontSize":4.4,"align":"left","baseline":"middle"},"encoding":{"x":{"field":"i","type":"quantitative"},"y":{"datum":18.8,"scale":{"domain":[-14.4,22.4],"range":[349,303],"nice":false,"zero":false},"axis":null},"text":{"field":"t"}}},
{"data":{"values":[{"i":0.3,"t":"MACD(12,26)"}]},"mark":{"type":"text","color":"#22dd22","fontSize":4.4,"align":"left","baseline":"middle"},"encoding":{"x":{"field":"i","type":"quantitative"},"y":{"datum":18.8,"scale":{"domain":[-14.4,22.4],"range":[349,303],"nice":false,"zero":false},"axis":null},"text":{"field":"t"}}},
{"data":{"values":[{"i":12.3,"t":"Signal(12,26,9)"}]},"mark":{"type":"text","color":"#d02020","fontSize":4.4,"align":"left","baseline":"middle"},"encoding":{"x":{"field":"i","type":"quantitative"},"y":{"datum":18.8,"scale":{"domain":[-14.4,22.4],"range":[349,303],"nice":false,"zero":false},"axis":null},"text":{"field":"t"}}},
{"data":{"values":[{"s":"sig","v":4.8},{"s":"macd","v":0}]},"mark":{"type":"bar","orient":"horizontal","height":5},"encoding":{"x":{"datum":182.9},"x2":{"datum":189.3},"y":{"field":"v","type":"quantitative","scale":{"domain":[-14.4,22.4],"range":[349,303],"nice":false,"zero":false},"axis":null},"color":{"field":"s","type":"nominal","scale":{"domain":["sig","macd"],"range":["#e02020","#22dd22"]},"legend":null}}},
{"data":{"values":[{"v":4.8,"t":"0.73441","s":"sig"},{"v":0,"t":"0.66837","s":"macd"}]},"mark":{"type":"text","fontSize":4.2,"align":"left","baseline":"middle"},"encoding":{"x":{"datum":183.4},"y":{"field":"v","type":"quantitative","scale":{"domain":[-14.4,22.4],"range":[349,303],"nice":false,"zero":false},"axis":null},"text":{"field":"t"},"color":{"condition":{"test":"datum.s == 'sig'","value":"#ffffff"},"value":"#111111"}}}
]
}
